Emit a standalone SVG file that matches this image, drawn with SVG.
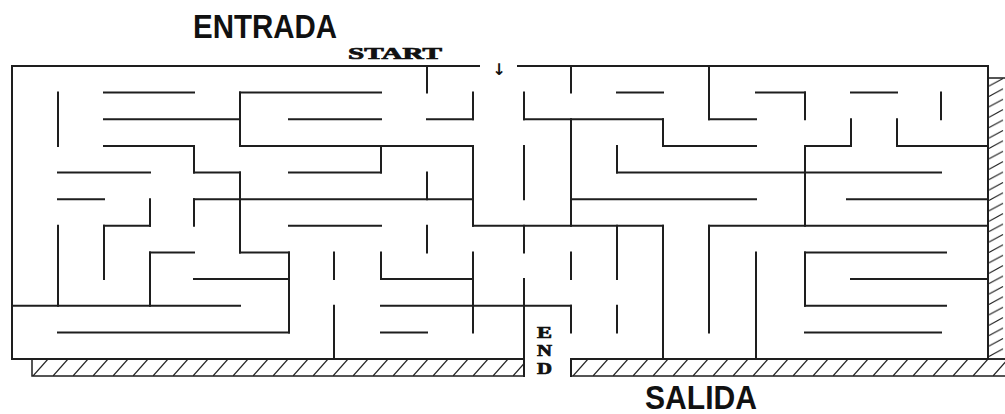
<svg xmlns="http://www.w3.org/2000/svg" width="1005" height="414" viewBox="0 0 1005 414">
<style>
.w{fill:none;stroke:#1e1e1e;stroke-width:2;stroke-linecap:square}
.big{font-family:"Liberation Sans",Arial,sans-serif;font-weight:bold;font-size:34px;fill:#111}
.sm{font-family:"Liberation Serif","Times New Roman",serif;font-weight:bold;fill:#111;stroke:#111;stroke-width:0.7}
.hatch{stroke:#1e1e1e;stroke-width:1.5}
</style>
<defs>
<pattern id="hb" patternUnits="userSpaceOnUse" x="33" y="359" width="20" height="17"><path d="M0 17 L15 0" stroke="#222" stroke-width="1.2"/></pattern>
<pattern id="hr" patternUnits="userSpaceOnUse" x="988" y="78" width="17" height="10.4"><path d="M1 8 L15 0.5" stroke="#222" stroke-width="1.2"/></pattern>
</defs>
<g id="hatching">
<rect class="hatch" x="32" y="359" width="492" height="17" fill="url(#hb)"/>
<rect class="hatch" x="571" y="359" width="440" height="17" fill="url(#hb)"/>
<rect class="hatch" x="988" y="78" width="20" height="281" fill="url(#hr)"/>
</g>
<g id="walls" class="w">
<path d="M12 66H479M518 66H988M12 66V359M988 66V359M12 359H524M571 359H988"/>
<path d="M104 92.6H194M240 92.6H381M617 92.6H663M756 92.6H805M851 92.6H897"/>
<path d="M104 119.3H240M289 119.3H381M427 119.3H473M524 119.3H663M709 119.3H756"/>
<path d="M104 146H194M240 146H473M663 146H756M805 146H851M897 146H988"/>
<path d="M58 172.6H150M194 172.6H240M289 172.6H381M617 172.6H941"/>
<path d="M58 199.2H104M194 199.2H473M571 199.2H756M847 199.2H988"/>
<path d="M104 225.8H150M289 225.8H381M473 225.8H663M709 225.8H988"/>
<path d="M150 252.5H194M240 252.5H289M805 252.5H946"/>
<path d="M194 279.1H289M381 279.1H473M851 279.1H988"/>
<path d="M12 305.8H240M381 305.8H571M805 305.8H946"/>
<path d="M58 332.4H289M381 332.4H427M805 332.4H941"/>
<path d="M58 92.6V146M58 225.8V305.8M104 225.8V279.1M150 199.2V225.8M150 252.5V305.8"/>
<path d="M194 146V172.6M194 199.2V225.8M240 92.6V146M240 172.6V252.5M289 252.5V332.4"/>
<path d="M334 252.5V279.1M334 305.8V359M381 146V172.6M381 252.5V279.1"/>
<path d="M427 66V92.6M427 172.6V199.2M427 225.8V252.5M473 92.6V119.3M473 146V225.8M473 252.5V332.4"/>
<path d="M524 92.6V119.3M524 146V199.2M524 225.8V252.5M524 279.1V376"/>
<path d="M571 66V92.6M571 119.3V225.8M571 252.5V279.1M571 305.8V332.4M571 359V376"/>
<path d="M617 146V172.6M617 225.8V279.1M617 305.8V332.4M663 119.3V146M663 225.8V359"/>
<path d="M709 66V119.3M709 225.8V332.4M756 252.5V359"/>
<path d="M805 92.6V119.3M805 146V225.8M805 252.5V305.8M851 119.3V146M897 119.3V146M941 92.6V119.3"/>
</g>
<g id="labels">
<text class="big" x="193" y="38" textLength="144" lengthAdjust="spacingAndGlyphs">ENTRADA</text>
<text class="big" x="645" y="409" textLength="112" lengthAdjust="spacingAndGlyphs">SALIDA</text>
<text class="sm" x="348" y="59" font-size="16" textLength="94" lengthAdjust="spacingAndGlyphs">START</text>
<text x="499" y="75" text-anchor="middle" font-family="DejaVu Sans,sans-serif" font-weight="bold" font-size="16" fill="#111">↓</text>
<text class="sm" x="537" y="338" font-size="16" textLength="15" lengthAdjust="spacingAndGlyphs">E</text>
<text class="sm" x="537" y="355.5" font-size="16" textLength="15" lengthAdjust="spacingAndGlyphs">N</text>
<text class="sm" x="537" y="373.5" font-size="16" textLength="15" lengthAdjust="spacingAndGlyphs">D</text>
</g>
</svg>
